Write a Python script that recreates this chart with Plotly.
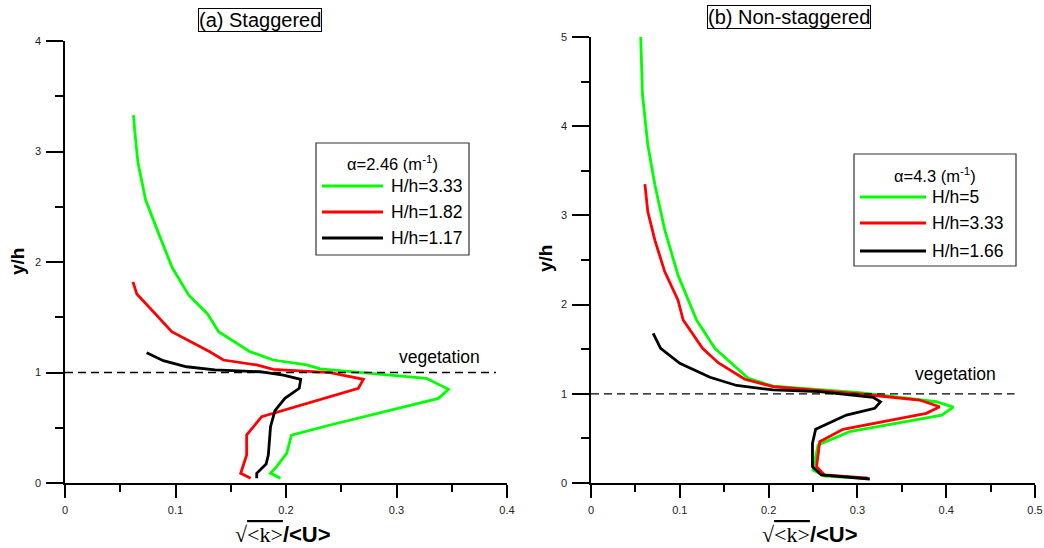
import plotly.graph_objects as go

# ---------------- data ----------------
# (a) Staggered, alpha = 2.46 m^-1
a_green_x = [0.062, 0.063, 0.066, 0.073, 0.085, 0.097, 0.112, 0.129, 0.139, 0.167, 0.1885, 0.2187, 0.231, 0.270, 0.327, 0.347, 0.338, 0.240, 0.205, 0.2006, 0.1915, 0.186, 0.195]
a_green_y = [3.33, 3.2, 2.9, 2.56, 2.25, 1.95, 1.70, 1.53, 1.37, 1.19, 1.113, 1.068, 1.032, 0.997, 0.947, 0.848, 0.766, 0.525, 0.434, 0.269, 0.148, 0.088, 0.042]
a_red_x = [0.0615, 0.065, 0.080, 0.0966, 0.131, 0.1433, 0.1735, 0.1885, 0.240, 0.270, 0.2655, 0.240, 0.178, 0.1644, 0.1644, 0.159, 0.168]
a_red_y = [1.82, 1.71, 1.55, 1.369, 1.188, 1.113, 1.068, 1.029, 0.998, 0.938, 0.857, 0.782, 0.600, 0.434, 0.253, 0.088, 0.042]
a_black_x = [0.0739, 0.089, 0.110, 0.1357, 0.1765, 0.1976, 0.2133, 0.212, 0.199, 0.190, 0.186, 0.184, 0.182, 0.1735, 0.1735]
a_black_y = [1.178, 1.107, 1.052, 1.023, 1.007, 0.977, 0.938, 0.857, 0.766, 0.654, 0.510, 0.253, 0.172, 0.088, 0.042]
a_labels = ["H/h=3.33", "H/h=1.82", "H/h=1.17"]

# (b) Non-staggered, alpha = 4.3 m^-1
b_green_x = [0.056, 0.058, 0.064, 0.072, 0.083, 0.098, 0.1189, 0.1395, 0.177, 0.205, 0.3026, 0.3889, 0.408, 0.395, 0.2913, 0.2557, 0.25, 0.263, 0.31]
b_green_y = [5.0, 4.35, 3.79, 3.34, 2.84, 2.33, 1.827, 1.51, 1.174, 1.087, 1.012, 0.911, 0.85, 0.76, 0.575, 0.426, 0.146, 0.078, 0.053]
b_red_x = [0.0607, 0.064, 0.072, 0.083, 0.098, 0.1038, 0.1256, 0.1432, 0.1732, 0.205, 0.3026, 0.370, 0.3926, 0.3776, 0.2838, 0.2576, 0.254, 0.263, 0.312]
b_red_y = [3.35, 3.04, 2.72, 2.37, 2.05, 1.827, 1.51, 1.349, 1.163, 1.08, 0.998, 0.93, 0.855, 0.781, 0.602, 0.463, 0.183, 0.09, 0.053]
b_black_x = [0.070, 0.0784, 0.100, 0.134, 0.164, 0.205, 0.2576, 0.3026, 0.3176, 0.326, 0.3195, 0.2876, 0.253, 0.2494, 0.2494, 0.2594, 0.314]
b_black_y = [1.678, 1.51, 1.342, 1.185, 1.093, 1.043, 1.024, 0.975, 0.961, 0.911, 0.837, 0.762, 0.602, 0.445, 0.183, 0.09, 0.045]
b_labels = ["H/h=5", "H/h=3.33", "H/h=1.66"]

veg_a_x = [0.0, 0.39]
veg_b_x = [0.0, 0.477]
veg_y = [1.0, 1.0]

colors = ["#00ff00", "#ff0000", "#000000"]

W, H = 1044, 548
def px(x):
    return x / W
def py(y):
    return 1 - y / H

fig = go.Figure()

series_a = [(a_green_x, a_green_y), (a_red_x, a_red_y), (a_black_x, a_black_y)]
series_b = [(b_green_x, b_green_y), (b_red_x, b_red_y), (b_black_x, b_black_y)]

for (xs, ys), c, lab in zip(series_a, colors, a_labels):
    fig.add_trace(go.Scatter(x=xs, y=ys, mode="lines", name=lab,
                             line=dict(color=c, width=2.8), xaxis="x", yaxis="y", showlegend=False))
for (xs, ys), c, lab in zip(series_b, colors, b_labels):
    fig.add_trace(go.Scatter(x=xs, y=ys, mode="lines", name=lab,
                             line=dict(color=c, width=2.8), xaxis="x2", yaxis="y2", showlegend=False))

fig.add_trace(go.Scatter(x=veg_a_x, y=veg_y, mode="lines", line=dict(color="black", width=1.3, dash="8px,5px"),
                         xaxis="x", yaxis="y", showlegend=False))
fig.add_trace(go.Scatter(x=veg_b_x, y=veg_y, mode="lines", line=dict(color="black", width=1.3, dash="8px,5px"),
                         xaxis="x2", yaxis="y2", showlegend=False))

tickfont = dict(family="Liberation Sans, Arial", size=11, color="#222")
def xax(domain, rng, step):
    n = int(round(rng[1] / step))
    vals = [round(i * step, 3) for i in range(n + 1)]
    return dict(domain=domain, range=rng, showline=True, linecolor="black", linewidth=1.5,
                ticks="outside", ticklen=13, tickwidth=1.5, tickcolor="black",
                tickvals=vals, ticktext=[("%g" % v) for v in vals], tickfont=tickfont,
                ticklabelstandoff=3, automargin=False,
                minor=dict(ticks="outside", ticklen=7, tickwidth=1.5, tickcolor="black", dtick=step / 2, tick0=0),
                showgrid=False, zeroline=False, fixedrange=True)
def yax(domain, rng, anchor):
    vals = list(range(int(rng[1]) + 1))
    return dict(domain=domain, range=rng, anchor=anchor, showline=True, linecolor="black", linewidth=1.5,
                ticks="outside", ticklen=17, tickwidth=1.5, tickcolor="black",
                tickvals=vals, tickfont=tickfont, ticklabelstandoff=3, automargin=False,
                minor=dict(ticks="outside", ticklen=8, tickwidth=1.5, tickcolor="black", dtick=0.5, tick0=0),
                showgrid=False, zeroline=False, fixedrange=True)

fig.update_layout(
    width=W, height=H, margin=dict(l=0, r=0, t=0, b=0, autoexpand=False),
    paper_bgcolor="white", plot_bgcolor="white", showlegend=False,
    xaxis=dict(xax([px(65), px(507)], [0, 0.4], 0.1), anchor="y"),
    yaxis=yax([1 - 483 / H, 1 - 41 / H], [0, 4], "x"),
    xaxis2=dict(xax([px(591), px(1035)], [0, 0.5], 0.1), anchor="y2"),
    yaxis2=yax([1 - 483 / H, 1 - 37 / H], [0, 5], "x2"),
)

ann = []
shapes = []
def note(x, y, text, size, xanchor="center", **kw):
    d = dict(x=px(x), y=py(y), xref="paper", yref="paper", text=text, showarrow=False,
             xanchor=xanchor, yanchor="middle",
             font=dict(family="Liberation Sans, Arial", size=size, color="black"))
    d.update(kw)
    ann.append(d)

# titles
note(260, 20, "(a) Staggered", 20, bordercolor="black", borderwidth=1, borderpad=0, bgcolor="white")
note(789, 17, "(b) Non-staggered", 20, bordercolor="black", borderwidth=1, borderpad=0, bgcolor="white")
# axis titles
xt = "<span style='font-family:Liberation Serif'>√<span style='text-decoration:overline'>&lt;k&gt;</span></span><b>/&lt;U&gt;</b>"
for cx in (283, 810):
    note(cx, 534, xt, 22)
for cx, cy in ((17, 262), (545, 259)):
    note(cx, cy, "<b>y/h</b>", 19, textangle=-90)
# vegetation labels
note(439, 357, "vegetation", 17.5)
note(955, 374, "vegetation", 17.5)

# legends (drawn manually)
def legend(box, title, title_x, title_y, line_x0, line_x1, rows, text_x, labels):
    shapes.append(dict(type="rect", xref="paper", yref="paper", x0=px(box[0]), x1=px(box[2]),
                       y0=py(box[3]), y1=py(box[1]), line=dict(color="#333", width=1.2), fillcolor="white", layer="above"))
    note(title_x, title_y, title, 16.5)
    for yy, c, lab in zip(rows, colors, labels):
        shapes.append(dict(type="line", xref="paper", yref="paper", x0=px(line_x0), x1=px(line_x1),
                           y0=py(yy), y1=py(yy), line=dict(color=c, width=3), layer="above"))
        note(text_x, yy, lab, 17.5, xanchor="left")

legend((316, 143, 469, 255), "α=2.46 (m<sup>-1</sup>)", 392, 163, 322, 383, (186, 212, 238), 389, a_labels)
legend((854, 154, 1016, 266), "α=4.3 (m<sup>-1</sup>)", 935, 175, 860, 926, (197, 223, 251), 930, b_labels)

fig.update_layout(annotations=ann, shapes=shapes)
fig.write_html("out.html")
